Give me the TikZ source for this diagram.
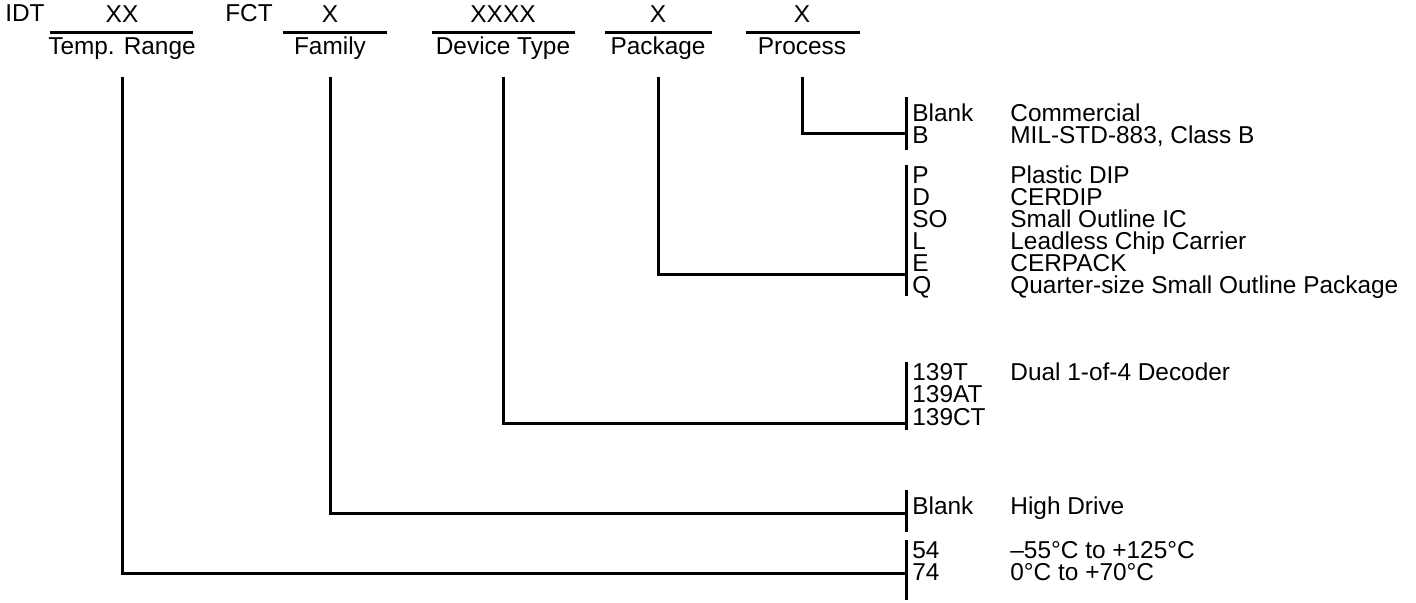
\documentclass[tikz,border=0pt]{standalone}
\usepackage{fontspec}
\setmainfont{Liberation Sans}
\begin{document}
\begin{tikzpicture}[
		x=0.5pt,y=-0.5pt,
		txt/.style={inner sep=0pt,font=\fontsize{12.2}{14}\selectfont},
		field/.style={txt,anchor=base},
		code/.style={txt,anchor=base west},
		rule/.style={line width=1.5pt},
		lead/.style={line width=1.5pt}
	]
	\useasboundingbox (0,0) rectangle (1416,602);
	% part number fields
	\node[field] (idt) at (25,21) {IDT};
	\node[field] (fct) at (249,21) {FCT};
	\node[field] (tempx) at (122,22) {XX};
	\node[field] (famx) at (330,22) {X};
	\node[field] (devx) at (503,22) {XXXX};
	\node[field] (pkgx) at (658,22) {X};
	\node[field] (procx) at (802,22) {X};
	\draw[rule] (50,32) -- (193,32);
	\draw[rule] (283,32) -- (387,32);
	\draw[rule] (432,32) -- (575,32);
	\draw[rule] (605,32) -- (712,32);
	\draw[rule] (746,32) -- (860,32);
	\node[field] (temp) at (122,54) {Temp. Range};
	\node[field] (fam) at (330,54) {Family};
	\node[field] (dev) at (503,54) {Device Type};
	\node[field] (pkg) at (658,54) {Package};
	\node[field] (proc) at (802,54) {Process};
	% process
	\coordinate (proc-a) at (906,97);
	\coordinate (proc-b) at (906,150);
	\coordinate (proc-j) at (906,133);
	\draw[lead] (proc-a) -- (proc-b);
	\draw[lead] ([yshift=-11.5]proc.base) |- (proc-j);
	\node[code] (p1) at (912,121) {Blank};
	\node[code] at (1010,121) {Commercial};
	\node[code] (p2) at (912,143) {B};
	\node[code] at (1010,143) {MIL-STD-883, Class B};
	% package
	\coordinate (pkg-a) at (906,165);
	\coordinate (pkg-b) at (906,296);
	\coordinate (pkg-j) at (906,274);
	\draw[lead] (pkg-a) -- (pkg-b);
	\draw[lead] ([yshift=-11.5]pkg.base) |- (pkg-j);
	\node[code] (k1) at (912,183) {P};
	\node[code] at (1010,183) {Plastic DIP};
	\node[code] (k2) at (912,205) {D};
	\node[code] at (1010,205) {CERDIP};
	\node[code] (k3) at (912,227) {SO};
	\node[code] at (1010,227) {Small Outline IC};
	\node[code] (k4) at (912,249) {L};
	\node[code] at (1010,249) {Leadless Chip Carrier};
	\node[code] (k5) at (912,271) {E};
	\node[code] at (1010,271) {CERPACK};
	\node[code] (k6) at (912,293) {Q};
	\node[code] at (1010,293) {Quarter-size Small Outline Package};
	% device type
	\coordinate (dev-a) at (906,362);
	\coordinate (dev-b) at (906,430);
	\coordinate (dev-j) at (906,423);
	\draw[lead] (dev-a) -- (dev-b);
	\draw[lead] ([yshift=-11.5]dev.base) |- (dev-j);
	\node[code] (d1) at (912,380) {139T};
	\node[code] at (1010,380) {Dual 1-of-4 Decoder};
	\node[code] (d2) at (912,402) {139AT};
	\node[code] (d3) at (912,425) {139CT};
	% family
	\coordinate (fam-a) at (906,490);
	\coordinate (fam-b) at (906,532);
	\coordinate (fam-j) at (906,513);
	\draw[lead] (fam-a) -- (fam-b);
	\draw[lead] ([yshift=-11.5]fam.base) |- (fam-j);
	\node[code] (f1) at (912,514) {Blank};
	\node[code] at (1010,514) {High Drive};
	% temperature range
	\coordinate (temp-a) at (906,540);
	\coordinate (temp-b) at (906,600);
	\coordinate (temp-j) at (906,573);
	\draw[lead] (temp-a) -- (temp-b);
	\draw[lead] ([yshift=-11.5]temp.base) |- (temp-j);
	\node[code] (t1) at (912,558) {54};
	\node[code] at (1010,558) {–55°C to +125°C};
	\node[code] (t2) at (912,580) {74};
	\node[code] at (1010,580) {0°C to +70°C};
\end{tikzpicture}
\end{document}
